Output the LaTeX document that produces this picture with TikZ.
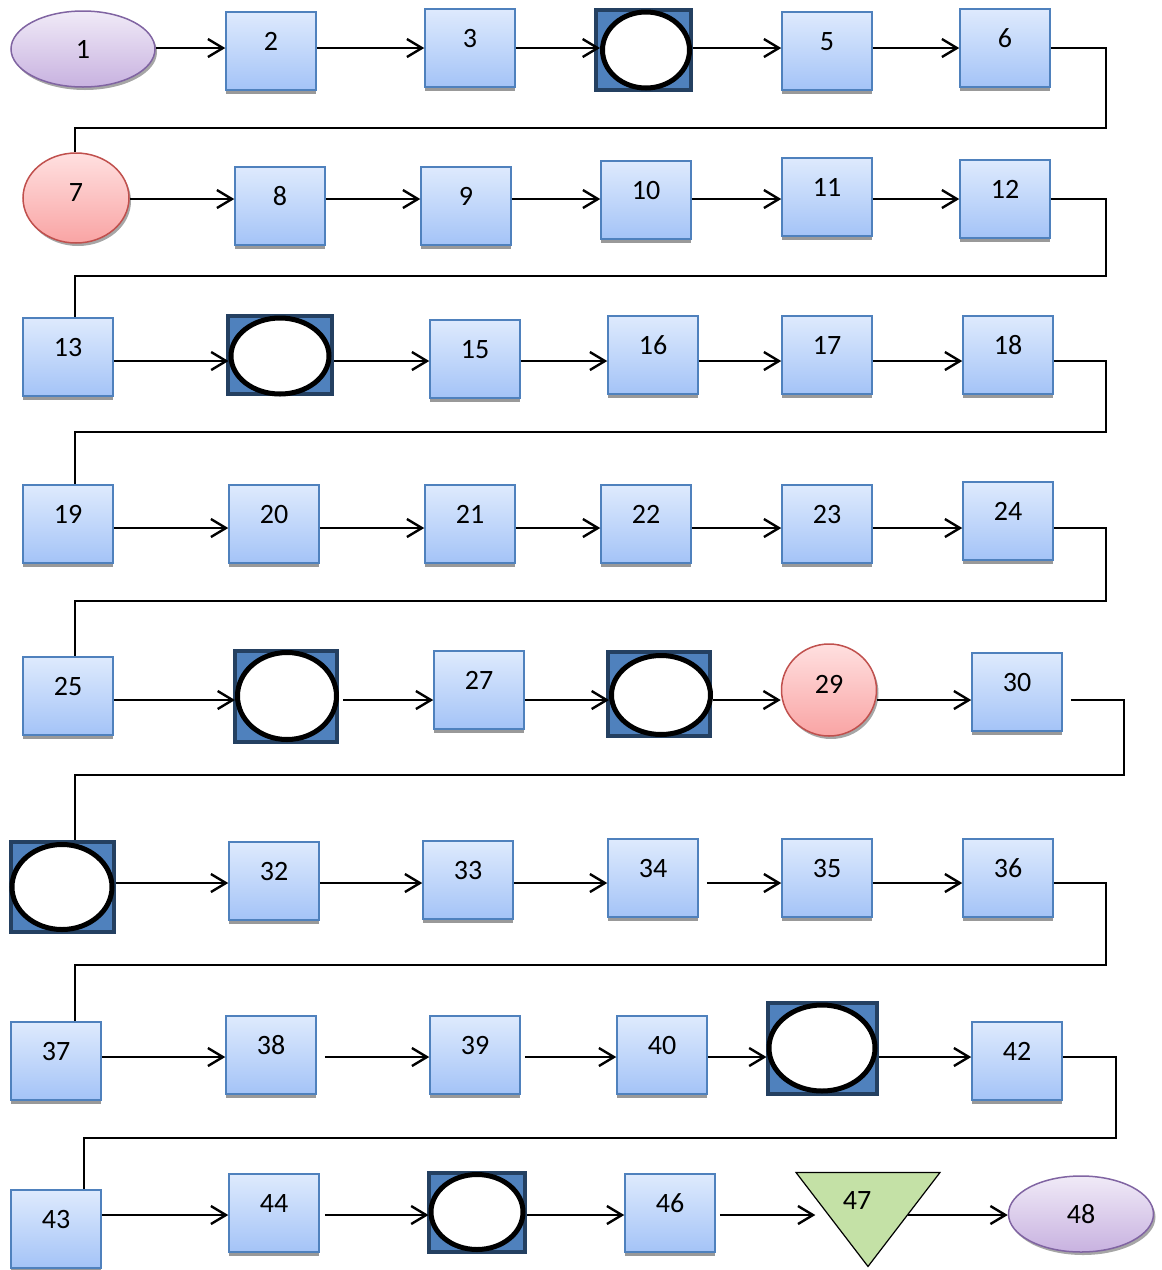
\documentclass[tikz,border=0pt]{standalone}
\usepackage{fontspec}
\setmainfont{Carlito}
\usetikzlibrary{shapes.geometric,arrows.meta,shadows}

\definecolor{boxtop}{RGB}{222,234,253}
\definecolor{boxbot}{RGB}{164,195,247}
\definecolor{boxline}{RGB}{79,129,189}
\definecolor{lilactop}{RGB}{240,234,247}
\definecolor{lilacbot}{RGB}{200,178,224}
\definecolor{lilacline}{RGB}{128,100,162}
\definecolor{rosetop}{RGB}{255,224,224}
\definecolor{rosebot}{RGB}{249,164,164}
\definecolor{roseline}{RGB}{192,80,77}
\definecolor{holefill}{RGB}{79,129,189}
\definecolor{holeline}{RGB}{36,64,97}
\definecolor{trifill}{RGB}{196,225,166}

\tikzset{
  stepbox/.style={rectangle, draw=boxline, line width=1.5pt,
    top color=boxtop, bottom color=boxbot,
    minimum width=90pt, minimum height=78pt, inner sep=0pt,
    text height=19pt, text depth=20pt,
    drop shadow={shadow xshift=0pt, shadow yshift=-4pt, fill=black!40, opacity=1}},
  startend/.style={ellipse, draw=lilacline, line width=1.5pt,
    top color=lilactop, bottom color=lilacbot, inner sep=0pt,
    drop shadow={shadow xshift=2pt, shadow yshift=-3pt, fill=black!35, opacity=1}},
  redcirc/.style={ellipse, draw=roseline, line width=1.5pt,
    top color=rosetop, bottom color=rosebot, inner sep=0pt,
    text height=19pt, text depth=12pt,
    drop shadow={shadow xshift=2pt, shadow yshift=-3pt, fill=black!35, opacity=1}},
  holebox/.style={rectangle, fill=holefill, draw=holeline, line width=4pt, inner sep=0pt},
  hole/.style={ellipse, fill=white, draw=black, line width=5pt, inner sep=0pt},
  tri/.style={isosceles triangle, isosceles triangle stretches, shape border rotate=270,
    draw=black, line width=1.2pt, fill=trifill, inner sep=0pt},
  flow/.style={-{Straight Barb[length=15pt,width=18pt]}, line width=2.4pt},
  link/.style={line width=2pt}
}

\begin{document}
\begin{tikzpicture}[x=1pt, y=-1pt, font=\fontsize{28}{32}\selectfont]
\useasboundingbox (0,0) rectangle (1162,1270);

% row heights
\coordinate (r1) at (0,48);
\coordinate (r2) at (0,199);
\coordinate (r3) at (0,361);
\coordinate (r4) at (0,528);
\coordinate (r5) at (0,700);
\coordinate (r6) at (0,883);
\coordinate (r7) at (0,1057);
\coordinate (r8) at (0,1215);

% row 1
\node[startend, minimum width=144pt, minimum height=76pt] (n1) at (83,49) {1};
\node[stepbox] (n2) at (271,51) {2};
\node[stepbox] (n3) at (470,48) {3};
\node[holebox, minimum width=95pt, minimum height=80pt] (n4) at (643,50) {};
\node[hole, minimum width=87pt, minimum height=76pt] (n4e) at (646,50) {};
\node[stepbox] (n5) at (827,51) {5};
\node[stepbox] (n6) at (1005,48) {6};

% row 2
\node[redcirc, minimum width=106pt, minimum height=90pt] (n7) at (76,198) {7};
\node[stepbox] (n8) at (280,206) {8};
\node[stepbox] (n9) at (466,206) {9};
\node[stepbox] (n10) at (646,200) {10};
\node[stepbox] (n11) at (827,197) {11};
\node[stepbox] (n12) at (1005,199) {12};

% row 3
\node[stepbox] (n13) at (68,357) {13};
\node[holebox, minimum width=104pt, minimum height=78pt] (n14) at (280,355) {};
\node[hole, minimum width=98pt, minimum height=76pt] (n14e) at (280,356) {};
\node[stepbox] (n15) at (475,359) {15};
\node[stepbox] (n16) at (653,355) {16};
\node[stepbox] (n17) at (827,355) {17};
\node[stepbox] (n18) at (1008,355) {18};

% row 4
\node[stepbox] (n19) at (68,524) {19};
\node[stepbox] (n20) at (274,524) {20};
\node[stepbox] (n21) at (470,524) {21};
\node[stepbox] (n22) at (646,524) {22};
\node[stepbox] (n23) at (827,524) {23};
\node[stepbox] (n24) at (1008,521) {24};

% row 5
\node[stepbox] (n25) at (68,696) {25};
\node[holebox, minimum width=102pt, minimum height=91pt] (n26) at (286,696) {};
\node[hole, minimum width=99pt, minimum height=87pt] (n26e) at (287,696) {};
\node[stepbox] (n27) at (479,690) {27};
\node[holebox, minimum width=102pt, minimum height=84pt] (n28) at (659,694) {};
\node[hole, minimum width=99pt, minimum height=79pt] (n28e) at (661,695) {};
\node[redcirc, minimum width=95pt, minimum height=92pt] (n29) at (829,690) {29};
\node[stepbox] (n30) at (1017,692) {30};

% row 6
\node[holebox, minimum width=103pt, minimum height=90pt] (n31) at (62,887) {};
\node[hole, minimum width=100pt, minimum height=85pt] (n31e) at (62,887) {};
\node[stepbox] (n32) at (274,881) {32};
\node[stepbox] (n33) at (468,880) {33};
\node[stepbox] (n34) at (653,878) {34};
\node[stepbox] (n35) at (827,878) {35};
\node[stepbox] (n36) at (1008,878) {36};

% row 7
\node[stepbox] (n37) at (56,1061) {37};
\node[stepbox] (n38) at (271,1055) {38};
\node[stepbox] (n39) at (475,1055) {39};
\node[stepbox] (n40) at (662,1055) {40};
\node[holebox, minimum width=109pt, minimum height=91pt] (n41) at (822,1048) {};
\node[hole, minimum width=106pt, minimum height=86pt] (n41e) at (822,1048) {};
\node[stepbox] (n42) at (1017,1061) {42};

% row 8
\node[stepbox] (n43) at (56,1229) {43};
\node[stepbox] (n44) at (274,1213) {44};
\node[holebox, minimum width=96pt, minimum height=79pt] (n45) at (477,1212) {};
\node[hole, minimum width=92pt, minimum height=75pt] (n45e) at (477,1212) {};
\node[stepbox] (n46) at (670,1213) {46};
\node[tri, minimum width=144pt, minimum height=94pt] (n47) at (868,1208) {};
\node (t47) at (857,1200) {47};
\node[startend, minimum width=145pt, minimum height=76pt] (n48) at (1081,1214) {48};

% arrows along the rows
\draw[flow] (n1.east |- r1) -- (n2.west |- r1);
\draw[flow] (n2.east |- r1) -- (n3.west |- r1);
\draw[flow] (n3.east |- r1) -- (n4e.west |- r1);
\draw[flow] (n4.east |- r1) -- (n5.west |- r1);
\draw[flow] (n5.east |- r1) -- (n6.west |- r1);

\draw[flow] (n7.east |- r2) -- (n8.west |- r2);
\draw[flow] (n8.east |- r2) -- (n9.west |- r2);
\draw[flow] (n9.east |- r2) -- (n10.west |- r2);
\draw[flow] (n10.east |- r2) -- (n11.west |- r2);
\draw[flow] (n11.east |- r2) -- (n12.west |- r2);

\draw[flow] (n13.east |- r3) -- (n14e.west |- r3);
\draw[flow] (n14.east |- r3) -- (n15.west |- r3);
\draw[flow] (n15.east |- r3) -- (n16.west |- r3);
\draw[flow] (n16.east |- r3) -- (n17.west |- r3);
\draw[flow] (n17.east |- r3) -- (n18.west |- r3);

\draw[flow] (n19.east |- r4) -- (n20.west |- r4);
\draw[flow] (n20.east |- r4) -- (n21.west |- r4);
\draw[flow] (n21.east |- r4) -- (n22.west |- r4);
\draw[flow] (n22.east |- r4) -- (n23.west |- r4);
\draw[flow] (n23.east |- r4) -- (n24.west |- r4);

\draw[flow] (n25.east |- r5) -- (n26e.west |- r5);
\draw[flow, shorten <=4pt] (n26.east |- r5) -- (n27.west |- r5);
\draw[flow] (n27.east |- r5) -- (n28e.west |- r5);
\draw[flow] (n28e.east |- r5) -- (n29.west |- r5);
\draw[flow] (n29.east |- r5) -- (n30.west |- r5);

\draw[flow] (n31.east |- r6) -- (n32.west |- r6);
\draw[flow] (n32.east |- r6) -- (n33.west |- r6);
\draw[flow] (n33.east |- r6) -- (n34.west |- r6);
\draw[flow, shorten <=8pt] (n34.east |- r6) -- (n35.west |- r6);
\draw[flow] (n35.east |- r6) -- (n36.west |- r6);

\draw[flow] (n37.east |- r7) -- (n38.west |- r7);
\draw[flow, shorten <=8pt] (n38.east |- r7) -- (n39.west |- r7);
\draw[flow, shorten <=4pt] (n39.east |- r7) -- (n40.west |- r7);
\draw[flow] (n40.east |- r7) -- (n41e.west |- r7);
\draw[flow] (n41.east |- r7) -- (n42.west |- r7);

\draw[flow] (n43.east |- r8) -- (n44.west |- r8);
\draw[flow, shorten <=5pt] (n44.east |- r8) -- (n45e.west |- r8);
\draw[flow] (n45.east |- r8) -- (n46.west |- r8);
\draw[flow, shorten <=4pt, shorten >=7pt] (n46.east |- r8) -- (n47.west |- r8);
\draw[flow, shorten <=-6pt] (n47.east |- r8) -- (n48.west |- r8);

% turns between the rows
\coordinate (k1a) at (1106,128);  \coordinate (k1b) at (75,128);
\coordinate (k2a) at (1106,276);  \coordinate (k2b) at (75,276);
\coordinate (k3a) at (1106,432);  \coordinate (k3b) at (75,432);
\coordinate (k4a) at (1106,601);  \coordinate (k4b) at (75,601);
\coordinate (k5a) at (1124,775);  \coordinate (k5b) at (75,775);
\coordinate (k6a) at (1106,965);  \coordinate (k6b) at (75,965);
\coordinate (k7a) at (1116,1138); \coordinate (k7b) at (84,1138);

\draw[link] (n6.east |- r1) -| (k1a) -- (k1b) -- (k1b |- n7.north);
\draw[link] (n12.east |- r2) -| (k2a) -- (k2b) -- (k2b |- n13.north);
\draw[link] (n18.east |- r3) -| (k3a) -- (k3b) -- (k3b |- n19.north);
\draw[link] (n24.east |- r4) -| (k4a) -- (k4b) -- (k4b |- n25.north);
\draw[link, shorten <=8pt] (n30.east |- r5) -| (k5a) -- (k5b) -- (k5b |- n31.north);
\draw[link] (n36.east |- r6) -| (k6a) -- (k6b) -- (k6b |- n37.north);
\draw[link] (n42.east |- r7) -| (k7a) -- (k7b) -- (k7b |- n43.north);
\end{tikzpicture}
\end{document}
